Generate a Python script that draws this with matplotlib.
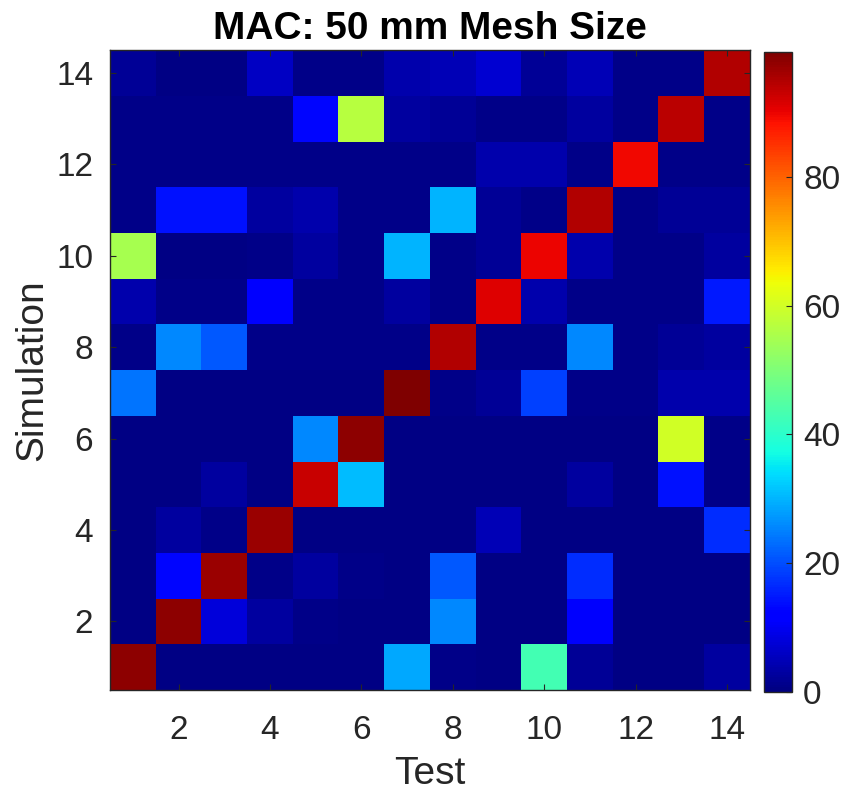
import numpy as np
import matplotlib.pyplot as plt

plt.rcParams['font.family'] = ['Liberation Sans', 'DejaVu Sans']

# MAC values (%), rows = simulation mode 1..14, columns = test mode 1..14
sim_modes = np.arange(1, 15)
test_modes = np.arange(1, 15)
mac_rows = [
    [98.0, 0.5, 0.5, 0.5, 0.5, 0.5, 29.0, 1.0, 0.5, 43.0, 2.0, 0.5, 0.5, 3.0],
    [0.5, 98.0, 8.0, 3.0, 1.0, 0.5, 0.5, 26.0, 0.5, 0.5, 11.0, 0.5, 0.5, 0.5],
    [0.5, 13.0, 97.0, 1.0, 3.0, 1.0, 0.5, 21.0, 0.5, 0.5, 17.0, 0.5, 0.5, 0.5],
    [0.5, 3.0, 1.0, 97.0, 0.5, 0.5, 0.5, 0.5, 5.0, 0.5, 0.5, 0.5, 0.5, 17.0],
    [0.5, 0.5, 3.0, 0.5, 93.0, 31.0, 0.5, 0.5, 0.5, 0.5, 3.0, 0.5, 14.0, 1.0],
    [0.5, 0.5, 0.5, 0.5, 26.0, 98.0, 0.5, 0.5, 0.5, 0.5, 0.5, 0.5, 60.0, 1.0],
    [24.0, 0.5, 0.5, 0.5, 0.5, 0.5, 99.4, 1.0, 2.0, 19.0, 1.0, 1.0, 4.0, 4.0],
    [1.0, 26.0, 21.0, 1.0, 1.0, 1.0, 1.0, 95.0, 1.0, 1.0, 26.0, 1.0, 2.0, 3.0],
    [4.0, 1.0, 1.0, 12.0, 1.0, 1.0, 3.0, 1.0, 91.0, 4.0, 1.0, 1.0, 1.0, 15.0],
    [55.0, 0.5, 0.5, 1.0, 3.0, 1.0, 30.0, 1.0, 2.0, 90.0, 4.0, 1.0, 1.0, 3.0],
    [1.0, 14.0, 14.0, 3.0, 4.0, 1.0, 1.0, 30.0, 2.0, 1.0, 95.0, 1.0, 2.0, 2.0],
    [1.0, 1.0, 1.0, 1.0, 1.0, 1.0, 1.0, 1.0, 4.0, 4.0, 1.0, 89.5, 1.0, 1.0],
    [1.0, 1.0, 1.0, 1.0, 13.0, 57.0, 3.0, 2.0, 1.0, 1.0, 3.0, 1.0, 94.0, 1.0],
    [2.0, 0.5, 0.5, 6.0, 1.0, 1.0, 4.0, 5.0, 7.0, 2.0, 5.0, 1.0, 1.0, 95.0],
]
mac = np.array(mac_rows)

fig = plt.figure(figsize=(8.43, 7.93), dpi=100)
ax = fig.add_axes([110 / 843, 1 - 690 / 793, 640 / 843, 640 / 793])
cax = fig.add_axes([764 / 843, 1 - 692 / 793, 28 / 843, 640 / 793])

im = ax.imshow(mac, cmap='jet', origin='lower', aspect='auto',
               vmin=0, vmax=mac.max(), interpolation='nearest',
               extent=[test_modes[0] - 0.5, test_modes[-1] + 0.5,
                       sim_modes[0] - 0.5, sim_modes[-1] + 0.5])

ax.set_xticks(np.arange(2, 15, 2))
ax.set_yticks(np.arange(2, 15, 2))
ax.tick_params(direction='in', length=4, width=0.8, colors='#262626',
               labelsize=24, top=True, right=True)
ax.tick_params(axis='x', pad=18)
ax.tick_params(axis='y', pad=12)
for s in ax.spines.values():
    s.set_color('#262626')
    s.set_linewidth(1.0)

ax.set_xlabel('Test', fontsize=28, color='#262626', labelpad=7)
ax.set_ylabel('Simulation', fontsize=28, color='#262626', labelpad=4)
ax.set_title('MAC: 50 mm Mesh Size', fontsize=28, fontweight='bold', pad=8)

cb = fig.colorbar(im, cax=cax, ticks=[0, 20, 40, 60, 80])
cb.ax.tick_params(direction='in', length=4, width=0.8, labelsize=24,
                  colors='#262626', pad=8)
cb.outline.set_edgecolor('#262626')
cb.outline.set_linewidth(1.0)

plt.savefig('out.png', dpi=100)
plt.close()
